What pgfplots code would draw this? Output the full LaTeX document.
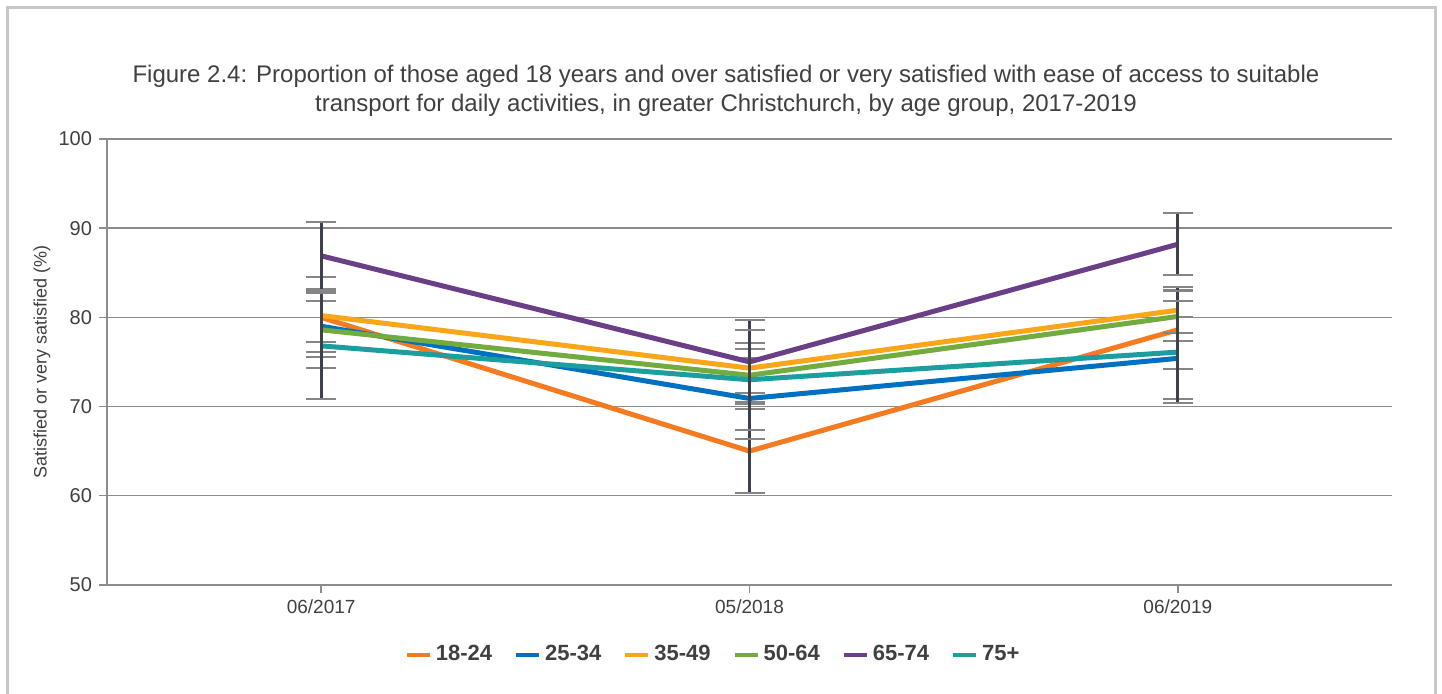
\documentclass[border=0pt]{standalone}
\usepackage{fontspec}
\setmainfont{Liberation Sans}
\usepackage{pgfplots}
\pgfplotsset{compat=1.18}
\definecolor{cA}{HTML}{F47B20}
\definecolor{cB}{HTML}{0070C0}
\definecolor{cC}{HTML}{F9A61A}
\definecolor{cD}{HTML}{72AC3F}
\definecolor{cE}{HTML}{6A3F87}
\definecolor{cF}{HTML}{1A9E9E}
\definecolor{framegray}{HTML}{C8C8C8}
\definecolor{gridgray}{HTML}{8C8C8C}
\definecolor{txtgray}{HTML}{404040}
\definecolor{bardark}{HTML}{3C414B}
\definecolor{capgray}{HTML}{858585}
\begin{document}
\begin{tikzpicture}
\useasboundingbox (0,0) rectangle (721pt,346.5pt);
\fill[white] (0,0) rectangle (721pt,346.5pt);
\draw[framegray, line width=1.5pt] (3.5pt,-5pt) -- (3.5pt,343pt) -- (717.5pt,343pt) -- (717.5pt,-5pt);
\node[align=center, font=\fontsize{12}{14.5}\selectfont, text=txtgray] at (363pt,301pt)
  {Figure 2.4: Proportion of those aged 18 years and over satisfied or very satisfied with ease of access to suitable\\
   transport for daily activities, in greater Christchurch, by age group, 2017-2019};
\begin{axis}[
    at={(53.5pt,54.1pt)}, anchor=south west,
    scale only axis, width=642.5pt, height=222.9pt,
    xmin=-0.5, xmax=2.5, ymin=50, ymax=100,
    xtick={0,1,2}, xticklabels={06/2017,05/2018,06/2019},
    ytick={50,60,70,80,90,100},
    axis x line=bottom, axis y line=left,
    axis line style={-, gridgray, line width=0.75pt},
    tick style={gridgray, line width=0.75pt},
    tick align=outside, major tick length=4pt,
    ymajorgrids, grid style={gridgray, line width=0.75pt},
    /pgf/number format/assume math mode=true,
    yticklabel style={font=\fontsize{10}{12}\selectfont, text=txtgray},
    xticklabel style={font=\fontsize{9.5}{11}\selectfont, text=txtgray},
    ylabel={Satisfied or very satisfied (\%)},
    every axis y label/.style={at={(axis description cs:-0.0506,0.5)}, rotate=90, anchor=center,
      font=\fontsize{9}{11}\selectfont, text=txtgray},
    legend style={at={(axis description cs:0.4725,-0.157)}, anchor=center, draw=none,
      font=\fontsize{11}{13}\selectfont\bfseries, text=txtgray,
      /tikz/every even column/.append style={column sep=9pt}},
    legend columns=6,
    legend image code/.code={\draw[line width=2pt] (0pt,0pt) -- (11.5pt,0pt);},
    error bars/error bar style={line width=1.5pt, color=bardark},
    error bars/error mark options={rotate=90, line width=1pt, color=capgray, mark size=7.5pt},
    every axis plot/.append style={line width=2.5pt},
]
\addplot[cA, error bars/.cd, y dir=both, y explicit] coordinates {
    (0,80.0) +- (0,4.5)
    (1,65.0) +- (0,4.7)
    (2,78.6) +- (0,4.45)
};
\addlegendentry{18-24}
\addplot[cB, error bars/.cd, y dir=both, y explicit] coordinates {
    (0,79.0) +- (0,2.85)
    (1,70.9) +- (0,4.5)
    (2,75.4) +- (0,4.6)
};
\addlegendentry{25-34}
\addplot[cC, error bars/.cd, y dir=both, y explicit] coordinates {
    (0,80.2) +- (0,2.95)
    (1,74.3) +- (0,2.8)
    (2,80.8) +- (0,2.6)
};
\addlegendentry{35-49}
\addplot[cD, error bars/.cd, y dir=both, y explicit] coordinates {
    (0,78.6) +- (0,4.25)
    (1,73.5) +- (0,3.0)
    (2,80.1) +- (0,2.8)
};
\addlegendentry{50-64}
\addplot[cE, error bars/.cd, y dir=both, y explicit] coordinates {
    (0,86.9) +- (0,3.8)
    (1,75.0) +- (0,4.7)
    (2,88.2) +- (0,3.5)
};
\addlegendentry{65-74}
\addplot[cF, error bars/.cd, y dir=both, y explicit] coordinates {
    (0,76.8) +- (0,5.95)
    (1,73.0) +- (0,5.6)
    (2,76.1) +- (0,5.75)
};
\addlegendentry{75+}
\end{axis}
\end{tikzpicture}
\end{document}
